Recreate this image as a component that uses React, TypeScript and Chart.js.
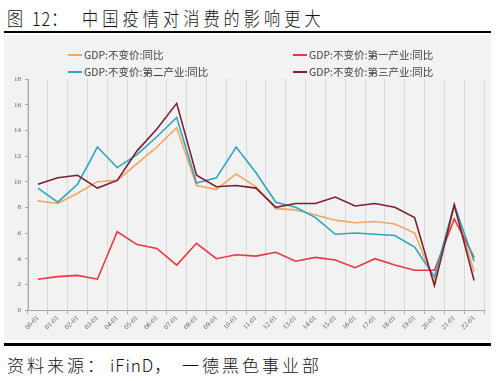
import React, { useEffect, useRef } from 'react';
import { Chart, registerables } from 'chart.js';

Chart.register(...registerables);

const categories = ['00-01', '01-01', '02-01', '03-01', '04-01', '05-01', '06-01', '07-01', '08-01', '09-01', '10-01', '11-01', '12-01', '13-01', '14-01', '15-01', '16-01', '17-01', '18-01', '19-01', '20-01', '21-01', '22-01'];
const yTicks = [0, 2, 4, 6, 8, 10, 12, 14, 16, 18];

const gdp = [8.5, 8.3, 9.1, 10.0, 10.1, 11.4, 12.7, 14.2, 9.7, 9.4, 10.6, 9.6, 7.9, 7.8, 7.4, 7.0, 6.8, 6.9, 6.7, 6.0, 2.2, 8.1, 3.0];
const primary = [2.4, 2.6, 2.7, 2.4, 6.1, 5.1, 4.8, 3.5, 5.2, 4.0, 4.3, 4.2, 4.5, 3.8, 4.1, 3.9, 3.3, 4.0, 3.5, 3.1, 3.1, 7.1, 4.1];
const secondary = [9.5, 8.4, 9.8, 12.7, 11.1, 12.1, 13.5, 15.0, 9.9, 10.3, 12.7, 10.7, 8.4, 8.0, 7.2, 5.9, 6.0, 5.9, 5.8, 4.9, 2.6, 8.2, 3.8];
const tertiary = [9.8, 10.3, 10.5, 9.5, 10.1, 12.4, 14.1, 16.1, 10.5, 9.6, 9.7, 9.5, 8.0, 8.3, 8.3, 8.8, 8.1, 8.3, 8.0, 7.2, 1.9, 8.2, 2.3];

const seriesNames = ['GDP:不变价:同比', 'GDP:不变价:第一产业:同比', 'GDP:不变价:第二产业:同比', 'GDP:不变价:第三产业:同比'];
const seriesColors = ['#F2A65E', '#E8383F', '#2EA5BD', '#7F1E2E'];

const CJK = '"Noto Sans CJK SC", "Noto Sans", sans-serif';
const SERIF = '"Liberation Serif", "DejaVu Serif", serif';

function LegendItem({ x, y, color, text }: { x: number; y: number; color: string; text: string }) {
  return (
    <div style={{ position: 'absolute', left: x, top: y - 8, height: 16, display: 'flex', alignItems: 'center', whiteSpace: 'nowrap' }}>
      <div style={{ width: 14, height: 2, background: color, marginRight: 2 }} />
      <span style={{ fontFamily: CJK, fontSize: 10.5, color: '#404040', lineHeight: '16px' }}>{text}</span>
    </div>
  );
}

export default function App() {
  const ref = useRef<HTMLCanvasElement>(null);

  useEffect(() => {
    document.body.style.margin = '0';
    const canvas = ref.current;
    if (!canvas) return;
    const chart = new Chart(canvas, {
      type: 'line',
      data: {
        labels: categories,
        datasets: [
          { label: seriesNames[3], data: tertiary, borderColor: seriesColors[3], backgroundColor: seriesColors[3] },
          { label: seriesNames[2], data: secondary, borderColor: seriesColors[2], backgroundColor: seriesColors[2] },
          { label: seriesNames[1], data: primary, borderColor: seriesColors[1], backgroundColor: seriesColors[1] },
          { label: seriesNames[0], data: gdp, borderColor: seriesColors[0], backgroundColor: seriesColors[0] },
        ],
      },
      options: {
        animation: false,
        responsive: false,
        maintainAspectRatio: false,
        devicePixelRatio: 1,
        layout: { padding: { top: 44, right: 7, left: 0, bottom: 0 } },
        plugins: { legend: { display: false }, tooltip: { enabled: false }, title: { display: false } },
        elements: { point: { radius: 0 }, line: { borderWidth: 1.6, tension: 0 } },
        scales: {
          x: {
            type: 'category',
            offset: true,
            grid: { offset: true, color: '#d9d9d9', lineWidth: 1, drawTicks: true, tickLength: 4, tickColor: '#a6a6a6' },
            border: { color: '#a6a6a6', width: 1 },
            ticks: {
              autoSkip: false,
              maxRotation: 45,
              minRotation: 45,
              padding: 0,
              color: '#595959',
              font: { family: SERIF, size: 7 },
            },
            afterFit: (s: any) => { s.height = 30; },
          },
          y: {
            min: 0,
            max: 18,
            afterBuildTicks: (s: any) => { s.ticks = yTicks.map((v) => ({ value: v })); },
            ticks: { padding: 4, color: '#595959', font: { family: SERIF, size: 7 } },
            grid: { drawOnChartArea: false, drawTicks: true, tickLength: 3, color: '#a6a6a6' },
            border: { color: '#a6a6a6', width: 1 },
            afterFit: (s: any) => { s.width = 24; },
          },
        },
      },
    });
    return () => chart.destroy();
  }, []);

  const titleStyle: React.CSSProperties = {
    position: 'absolute', top: 7, fontFamily: CJK, fontSize: 19, fontWeight: 300, lineHeight: '21px', color: '#111',
    whiteSpace: 'nowrap', transform: 'scaleX(0.85)', transformOrigin: '0 0', letterSpacing: 4.8,
  };
  const srcStyle: React.CSSProperties = {
    position: 'absolute', top: 355, fontFamily: CJK, fontSize: 17, fontWeight: 300, lineHeight: '20px', color: '#111',
    whiteSpace: 'nowrap', letterSpacing: 3,
  };

  return (
    <div style={{ position: 'relative', width: 499, height: 381, background: '#fff', overflow: 'hidden' }}>
      <div style={{ ...titleStyle, left: 7 }}>图</div>
      <div style={{ ...titleStyle, left: 32, letterSpacing: 1 }}>12：</div>
      <div style={{ ...titleStyle, left: 82 }}>中国疫情对消费的影响更大</div>
      <div style={{ position: 'absolute', left: 4, top: 31, width: 487, height: 2, background: '#000' }} />
      <div style={{ position: 'absolute', left: 4, top: 35, width: 487, height: 305, background: '#f2f2f2' }}>
        <canvas ref={ref} width={487} height={305} style={{ display: 'block', width: 487, height: 305 }} />
      </div>
      <LegendItem x={68} y={55} color={seriesColors[0]} text={seriesNames[0]} />
      <LegendItem x={68} y={72} color={seriesColors[2]} text={seriesNames[2]} />
      <LegendItem x={293} y={55} color={seriesColors[1]} text={seriesNames[1]} />
      <LegendItem x={293} y={72} color={seriesColors[3]} text={seriesNames[3]} />
      <div style={{ position: 'absolute', left: 4, top: 343, width: 487, height: 3, background: '#000' }} />
      <div style={{ ...srcStyle, left: 7 }}>资料来源：</div>
      <div style={{ ...srcStyle, left: 110, letterSpacing: 1 }}>iFinD，</div>
      <div style={{ ...srcStyle, left: 182 }}>一德黑色事业部</div>
    </div>
  );
}
